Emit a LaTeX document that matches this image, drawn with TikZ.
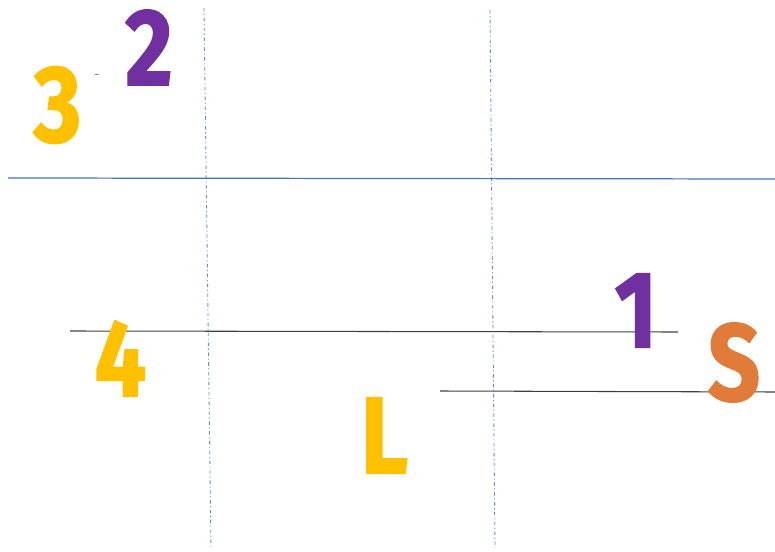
\documentclass[tikz,border=0pt]{standalone}
\usepackage{fontspec}
\setmainfont{Fira Sans}
\newfontfamily\glyphfont[BoldFeatures={FakeBold=1.6}]{Fira Sans}
\usepackage{graphicx}
\usepackage{xcolor}
\usepackage{tikz}
\usetikzlibrary{
  positioning,
  calc
}
\definecolor{lbYellow}{HTML}{FFC000}
\definecolor{lbPurple}{HTML}{7030A0}
\definecolor{lbOrange}{HTML}{E07B39}
\definecolor{lbGuide}{HTML}{5B8FD0}
\definecolor{lbRule}{HTML}{4472C4}
\definecolor{lbDark}{HTML}{404040}
\newcommand{\lbnarrow}[1]{\scalebox{0.84}[1]{#1}}
\tikzset{
  glyph/.style={inner sep=0pt, font=\glyphfont\fontsize{62}{64}\selectfont\bfseries},
  yglyph/.style={glyph, text=lbYellow},
  pglyph/.style={glyph, text=lbPurple},
  oglyph/.style={glyph, text=lbOrange},
  guide/.style={draw=lbGuide, line width=0.5pt, dash pattern=on 2pt off 1.5pt on 0.6pt off 1.5pt},
  rule/.style={draw=lbRule, line width=0.7pt},
  darkline/.style={draw=lbDark, line width=0.6pt}
}
\begin{document}
\begin{tikzpicture}
  \useasboundingbox (0,0) rectangle (15.5,11.02);
  % guide lines
  \coordinate (g1t) at (4.08,10.86);
  \coordinate (g1b) at (4.22,0.06);
  \coordinate (g2t) at (9.80,10.82);
  \coordinate (g2b) at (9.90,0.06);
  \coordinate (hl) at (0.16,7.46);
  \coordinate (hr) at (15.5,7.44);
  \coordinate (m1l) at (1.40,4.40);
  \coordinate (m1r) at (13.56,4.38);
  \coordinate (m2l) at (8.80,3.20);
  \coordinate (m2r) at (15.5,3.18);
  \coordinate (tl) at (1.90,9.53);
  \coordinate (tr) at (1.97,9.53);
  \draw[guide] (g1t) -- (g1b);
  \draw[guide] (g2t) -- (g2b);
  \draw[rule] (hl) -- (hr);
  \draw[darkline] (m1l) -- (m1r);
  \draw[darkline] (m2l) -- (m2r);
  \draw[draw=lbDark!60, line width=0.6pt] (tl) -- (tr);
  % letters
  \node[yglyph] (three) at (1.15,8.92) {\lbnarrow{3}};
  \node[pglyph] (two) at (2.98,10.07) {\lbnarrow{2}};
  \node[yglyph] (four) at (2.41,3.85) {\lbnarrow{4}};
  \node[yglyph] (ell) at (7.69,2.31) {\lbnarrow{L}};
  \node[pglyph] (one) at (12.72,4.81) {\lbnarrow{1}};
  \node[oglyph] (ess) at (14.68,3.77) {\lbnarrow{S}};
\end{tikzpicture}
\end{document}
